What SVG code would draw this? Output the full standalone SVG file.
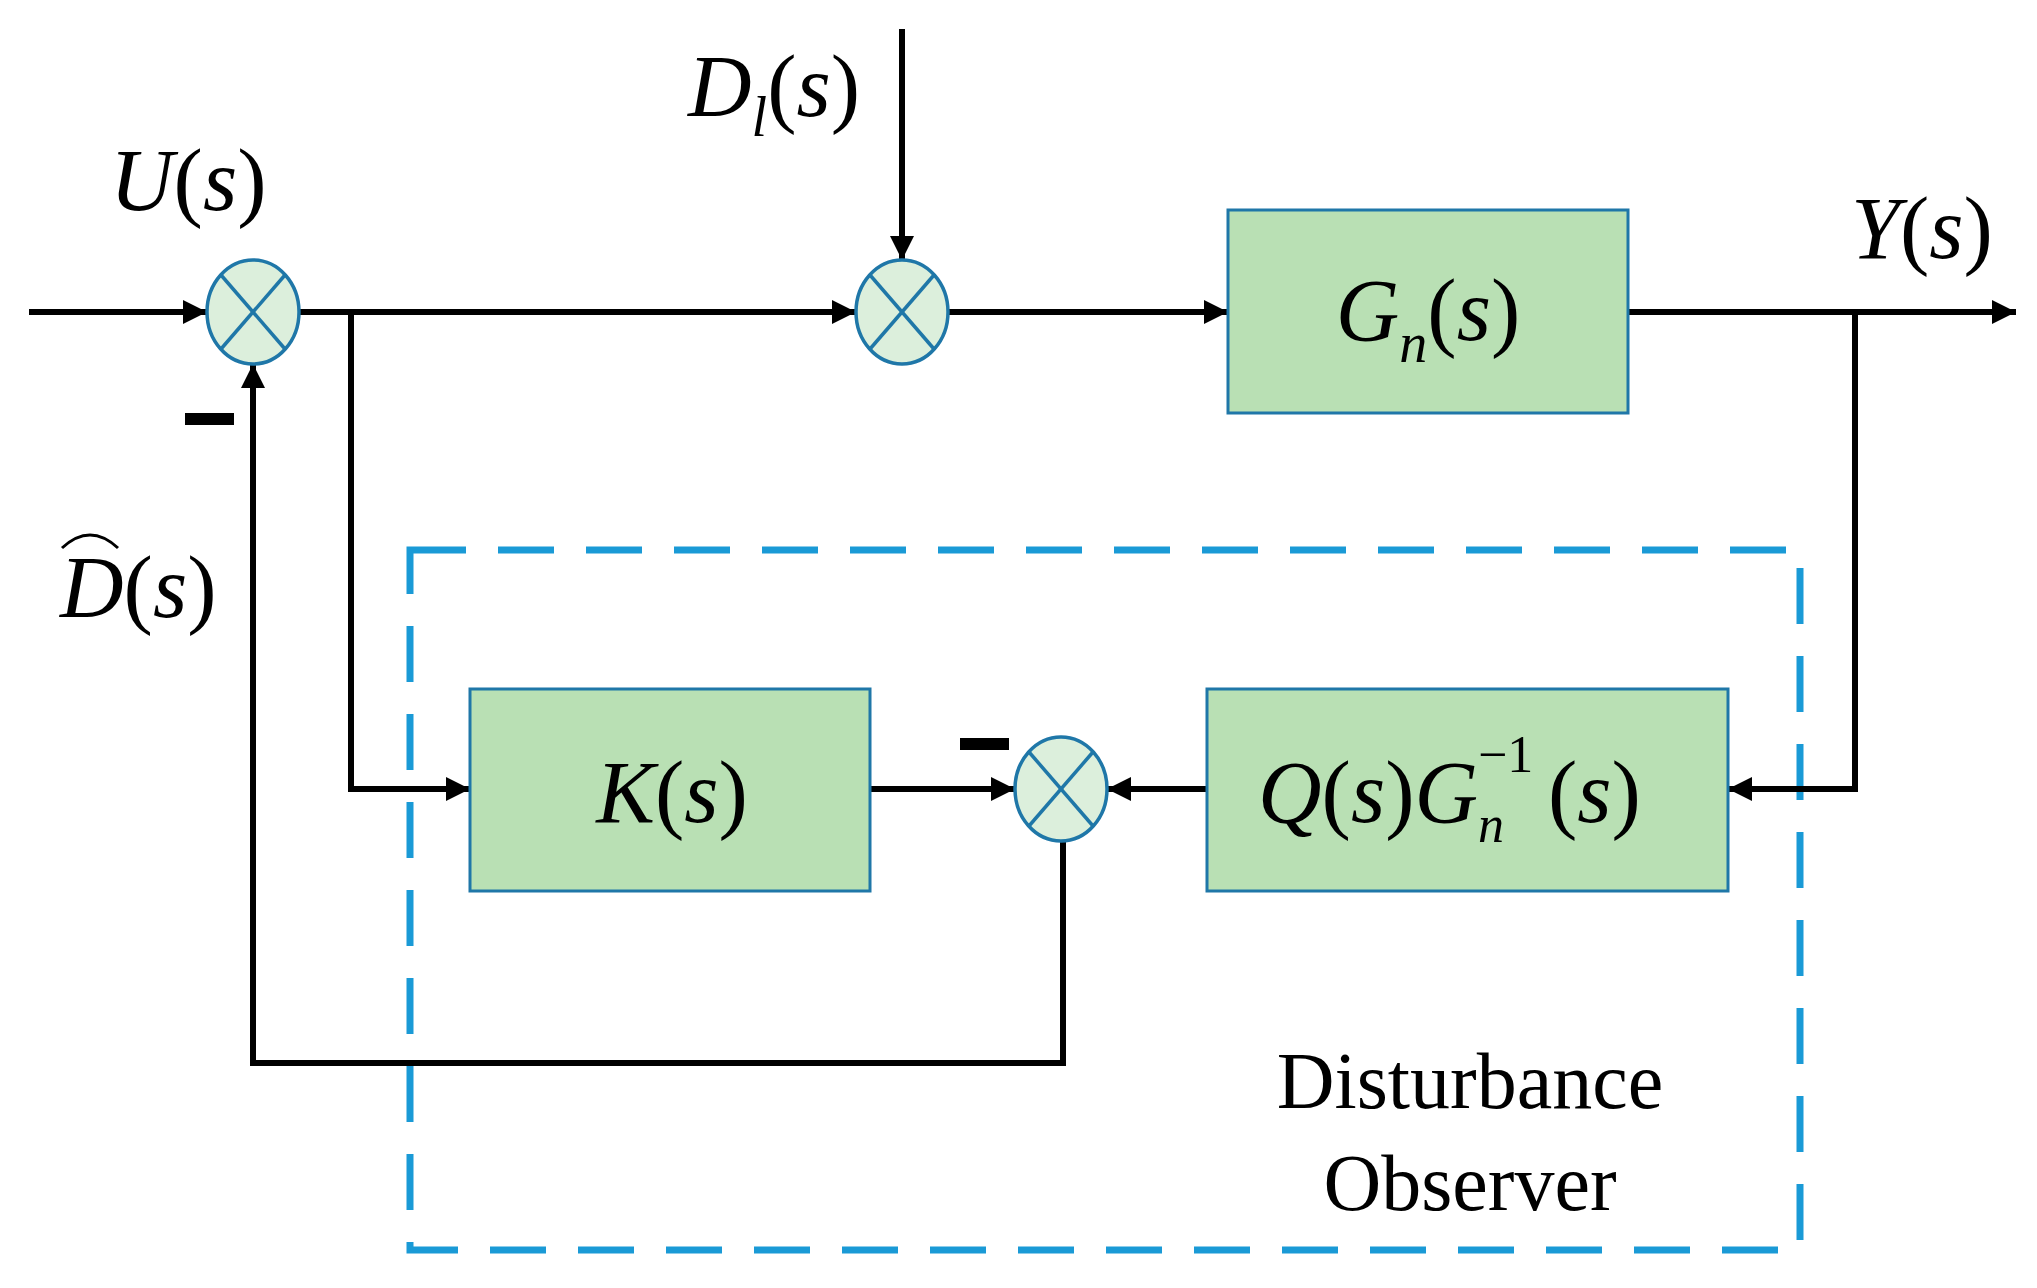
<svg xmlns="http://www.w3.org/2000/svg" width="2037" height="1288" viewBox="0 0 2037 1288">
<defs>
<marker id="ar" viewBox="0 0 10 10" refX="10" refY="5" markerWidth="4" markerHeight="4" orient="auto" markerUnits="strokeWidth"><path d="M0,0 L10,5 L0,10 z" fill="#000"/></marker>
</defs>
<style>
.ln{stroke:#000;stroke-width:6;fill:none}
.box{fill:#b9e0b4;stroke:#1f77a8;stroke-width:3}
.sum{fill:#dcefdc;stroke:#1f77a8;stroke-width:3.5}
.x{stroke:#1f77a8;stroke-width:3.5}
.m{font-family:"Liberation Serif",serif;font-style:italic;font-size:88px;fill:#000}
.t{font-family:"Liberation Serif",serif;font-size:80px;fill:#000}
</style>
<rect width="2037" height="1288" fill="#fff"/>
<g id="observer-box"><rect x="410" y="550" width="1390" height="700" fill="none" stroke="#1a9ad6" stroke-width="7" stroke-dasharray="56,32"/></g>
<g id="connectors">
<line class="ln" x1="29" y1="312" x2="207" y2="312" marker-end="url(#ar)"/>
<line class="ln" x1="299" y1="312" x2="856" y2="312" marker-end="url(#ar)"/>
<line class="ln" x1="948" y1="312" x2="1228" y2="312" marker-end="url(#ar)"/>
<line class="ln" x1="1628" y1="312" x2="2016" y2="312" marker-end="url(#ar)"/>
<line class="ln" x1="902" y1="29" x2="902" y2="260" marker-end="url(#ar)"/>
<polyline class="ln" points="351,312 351,789 470,789" marker-end="url(#ar)"/>
<polyline class="ln" points="1855,312 1855,789 1728,789" marker-end="url(#ar)"/>
<line class="ln" x1="870" y1="789" x2="1015" y2="789" marker-end="url(#ar)"/>
<line class="ln" x1="1207" y1="789" x2="1107" y2="789" marker-end="url(#ar)"/>
<polyline class="ln" points="1063,841 1063,1063 253,1063 253,364" marker-end="url(#ar)"/>
</g>
<g id="sum1"><ellipse class="sum" cx="253" cy="312" rx="46" ry="52"/><line class="x" x1="221" y1="275" x2="285" y2="349"/><line class="x" x1="285" y1="275" x2="221" y2="349"/></g>
<g id="sum2"><ellipse class="sum" cx="902" cy="312" rx="46" ry="52"/><line class="x" x1="870" y1="275" x2="934" y2="349"/><line class="x" x1="934" y1="275" x2="870" y2="349"/></g>
<g id="sum3"><ellipse class="sum" cx="1061" cy="789" rx="46" ry="52"/><line class="x" x1="1029" y1="752" x2="1093" y2="826"/><line class="x" x1="1093" y1="752" x2="1029" y2="826"/></g>
<g id="minus1"><rect x="185" y="413" width="49" height="12" fill="#000"/></g>
<g id="minus2"><rect x="960" y="738" width="49" height="12" fill="#000"/></g>
<g id="Gn"><rect class="box" x="1228" y="210" width="400" height="203"/><text class="m" x="1428" y="340" text-anchor="middle">G<tspan font-size="56" dy="22">n</tspan><tspan font-style="normal" dy="-22">(</tspan>s<tspan font-style="normal">)</tspan></text></g>
<g id="K"><rect class="box" x="470" y="689" width="400" height="202"/><text class="m" x="672" y="822" text-anchor="middle">K<tspan font-style="normal">(</tspan>s<tspan font-style="normal">)</tspan></text></g>
<g id="Q"><rect class="box" x="1207" y="689" width="521" height="202"/>
<text class="m" x="1478" y="822" text-anchor="end">Q<tspan font-style="normal">(</tspan>s<tspan font-style="normal">)</tspan>G</text>
<text class="m" x="1478" y="772" style="font-size:52px;font-style:normal">−1</text>
<text class="m" x="1478" y="842" style="font-size:52px">n</text>
<text class="m" x="1548" y="822"><tspan font-style="normal">(</tspan>s<tspan font-style="normal">)</tspan></text>
</g>
<g id="labels">
<text class="m" x="110" y="210">U<tspan font-style="normal">(</tspan>s<tspan font-style="normal">)</tspan></text>
<text class="m" x="688" y="116">D<tspan font-size="56" dy="20">l</tspan><tspan font-style="normal" dy="-20">(</tspan>s<tspan font-style="normal">)</tspan></text>
<text class="m" x="1851" y="258">Y<tspan font-style="normal">(</tspan>s<tspan font-style="normal">)</tspan></text>
<text class="m" x="60" y="617">D<tspan font-style="normal">(</tspan>s<tspan font-style="normal">)</tspan></text>
<path d="M62,548 Q90,522 118,548" fill="none" stroke="#000" stroke-width="3"/>
<text class="t" x="1470" y="1108" text-anchor="middle">Disturbance</text>
<text class="t" x="1470" y="1210" text-anchor="middle">Observer</text>
</g>
</svg>
